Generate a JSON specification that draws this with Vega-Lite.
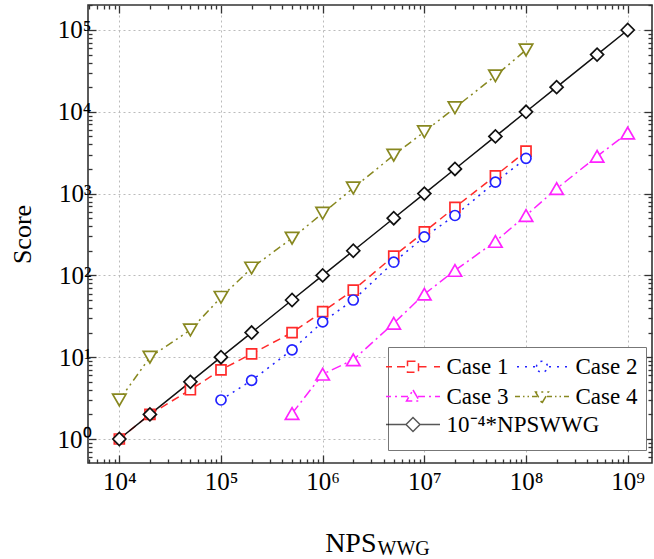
{
  "$schema": "https://vega.github.io/schema/vega-lite/v6.json",
  "width": 564,
  "height": 458,
  "autosize": "none",
  "padding": {"left": 88, "top": 5, "right": 2, "bottom": 96},
  "background": "white",
  "config": {
    "font": "Liberation Serif",
    "view": {"stroke": "#333", "strokeWidth": 1.6},
    "axis": {"labelFont": "Liberation Serif", "titleFont": "Liberation Serif", "labelFontSize": 25, "labelColor": "black", "titleColor": "black", "titleFontWeight": "normal", "tickColor": "#333", "tickWidth": 1.3, "domain": false, "labelFlush": false, "labelOverlap": false, "gridColor": "#bbb", "gridDash": [2, 3], "gridWidth": 1}
  },
  "data": {
    "values": [
      {"series": "Case 1", "x": 10000, "y": 1},
      {"series": "Case 1", "x": 20000, "y": 2},
      {"series": "Case 1", "x": 50000, "y": 4},
      {"series": "Case 1", "x": 100000, "y": 7},
      {"series": "Case 1", "x": 200000, "y": 11},
      {"series": "Case 1", "x": 500000, "y": 20},
      {"series": "Case 1", "x": 1000000, "y": 36},
      {"series": "Case 1", "x": 2000000, "y": 66},
      {"series": "Case 1", "x": 5000000, "y": 172},
      {"series": "Case 1", "x": 10000000, "y": 340},
      {"series": "Case 1", "x": 20000000, "y": 680},
      {"series": "Case 1", "x": 50000000, "y": 1650},
      {"series": "Case 1", "x": 100000000, "y": 3300},
      {"series": "Case 2", "x": 100000, "y": 3},
      {"series": "Case 2", "x": 200000, "y": 5.2},
      {"series": "Case 2", "x": 500000, "y": 12.3},
      {"series": "Case 2", "x": 1000000, "y": 27},
      {"series": "Case 2", "x": 2000000, "y": 50},
      {"series": "Case 2", "x": 5000000, "y": 145},
      {"series": "Case 2", "x": 10000000, "y": 295},
      {"series": "Case 2", "x": 20000000, "y": 540},
      {"series": "Case 2", "x": 50000000, "y": 1380},
      {"series": "Case 2", "x": 100000000, "y": 2700},
      {"series": "Case 3", "x": 500000, "y": 2.05},
      {"series": "Case 3", "x": 1000000, "y": 6.2},
      {"series": "Case 3", "x": 2000000, "y": 9.3},
      {"series": "Case 3", "x": 5000000, "y": 26},
      {"series": "Case 3", "x": 10000000, "y": 59},
      {"series": "Case 3", "x": 20000000, "y": 115},
      {"series": "Case 3", "x": 50000000, "y": 260},
      {"series": "Case 3", "x": 100000000, "y": 540},
      {"series": "Case 3", "x": 200000000, "y": 1150},
      {"series": "Case 3", "x": 500000000, "y": 2850},
      {"series": "Case 3", "x": 1000000000, "y": 5500},
      {"series": "Case 4", "x": 10000, "y": 3},
      {"series": "Case 4", "x": 20000, "y": 10},
      {"series": "Case 4", "x": 50000, "y": 21.5},
      {"series": "Case 4", "x": 100000, "y": 54},
      {"series": "Case 4", "x": 200000, "y": 123},
      {"series": "Case 4", "x": 500000, "y": 285},
      {"series": "Case 4", "x": 1000000, "y": 575},
      {"series": "Case 4", "x": 2000000, "y": 1170},
      {"series": "Case 4", "x": 5000000, "y": 2950},
      {"series": "Case 4", "x": 10000000, "y": 5700},
      {"series": "Case 4", "x": 20000000, "y": 11200},
      {"series": "Case 4", "x": 50000000, "y": 27500},
      {"series": "Case 4", "x": 100000000, "y": 57000},
      {"series": "10⁻⁴*NPSWWG", "x": 10000, "y": 1},
      {"series": "10⁻⁴*NPSWWG", "x": 20000, "y": 2},
      {"series": "10⁻⁴*NPSWWG", "x": 50000, "y": 5},
      {"series": "10⁻⁴*NPSWWG", "x": 100000, "y": 10},
      {"series": "10⁻⁴*NPSWWG", "x": 200000, "y": 20},
      {"series": "10⁻⁴*NPSWWG", "x": 500000, "y": 50},
      {"series": "10⁻⁴*NPSWWG", "x": 1000000, "y": 100},
      {"series": "10⁻⁴*NPSWWG", "x": 2000000, "y": 200},
      {"series": "10⁻⁴*NPSWWG", "x": 5000000, "y": 500},
      {"series": "10⁻⁴*NPSWWG", "x": 10000000, "y": 1000},
      {"series": "10⁻⁴*NPSWWG", "x": 20000000, "y": 2000},
      {"series": "10⁻⁴*NPSWWG", "x": 50000000, "y": 5000},
      {"series": "10⁻⁴*NPSWWG", "x": 100000000, "y": 10000},
      {"series": "10⁻⁴*NPSWWG", "x": 200000000, "y": 20000},
      {"series": "10⁻⁴*NPSWWG", "x": 500000000, "y": 50000},
      {"series": "10⁻⁴*NPSWWG", "x": 1000000000, "y": 100000}
    ]
  },
  "resolve": {"axis": {"x": "independent", "y": "independent"}},
  "layer": [
    {
      "transform": [{"filter": "datum.series !== '10⁻⁴*NPSWWG'"}],
      "mark": {"type": "line", "strokeWidth": 1.5, "clip": true},
      "encoding": {
        "x": {"field": "x", "type": "quantitative", "scale": {"type": "log", "domain": [4920, 1734000000], "nice": false, "zero": false},
          "axis": {"orient": "bottom",
            "values": [10000, 100000, 1000000, 10000000, 100000000, 1000000000],
            "labelExpr": "'10' + ['⁰','¹','²','³','⁴','⁵','⁶','⁷','⁸','⁹'][round(log(datum.value)/LN10)]",
            "labelFontSize": 25, "labelPadding": 14, "tickSize": -8,
            "grid": true,
            "title": "NPS", "titleFontSize": 28, "titleX": 288, "titleY": 88, "titleAlign": "right", "titleBaseline": "alphabetic"}},
        "y": {"field": "y", "type": "quantitative", "scale": {"type": "log", "domain": [0.509, 202000], "nice": false, "zero": false},
          "axis": {"orient": "left",
            "values": [1, 10, 100, 1000, 10000, 100000],
            "labelExpr": "'10' + ['⁰','¹','²','³','⁴','⁵','⁶','⁷','⁸','⁹'][round(log(datum.value)/LN10)]",
            "labelFontSize": 25, "labelPadding": 5, "tickSize": -8,
            "grid": true,
            "title": "Score", "titleFontSize": 26, "titleX": -66, "titleBaseline": "middle"}},
        "stroke": {"field": "series", "type": "nominal",
          "scale": {"domain": ["Case 1", "Case 2", "Case 3", "Case 4"], "range": ["#ff2a2a", "#2222ff", "#ff22ff", "#888820"]},
          "legend": {"title": " ", "titleOrient": "bottom", "titleFontSize": 23, "titlePadding": 10, "orient": "none", "legendX": 300, "legendY": 342, "columns": 2, "direction": "horizontal", "strokeColor": "#777", "fillColor": "white", "padding": 8, "rowPadding": 6, "columnPadding": 3, "labelFontSize": 23, "labelFont": "Liberation Serif", "labelColor": "black", "symbolSize": 400, "symbolStrokeWidth": 1.5, "symbolOffset": 5.5, "labelOffset": 22, "symbolFillColor": "white", "labelLimit": 300, "zindex": 0}},
        "strokeDash": {"field": "series", "type": "nominal", "legend": null,
          "scale": {"domain": ["Case 1", "Case 2", "Case 3", "Case 4"], "range": [[8, 5], [2, 5], [10, 4, 2, 4], [8, 4, 2, 4, 2, 4]]}},
        "detail": {"field": "series"}
      }
    },
    {
      "transform": [{"filter": "datum.series === '10⁻⁴*NPSWWG'"}],
      "mark": {"type": "line", "strokeWidth": 1.5, "stroke": "#111", "clip": true},
      "encoding": {"x": {"field": "x", "type": "quantitative", "axis": null}, "y": {"field": "y", "type": "quantitative", "axis": null}}
    },
    {
      "transform": [{"filter": "datum.series === 'Case 1'"}],
      "mark": {"type": "point", "shape": "square", "filled": true, "fill": "white", "size": 100, "strokeWidth": 1.7, "opacity": 1},
      "encoding": {
        "x": {"field": "x", "type": "quantitative",
          "axis": {"orient": "bottom", "values": [5000,6000,7000,8000,9000,20000,30000,40000,50000,60000,70000,80000,90000,200000,300000,400000,500000,600000,700000,800000,900000,2000000,3000000,4000000,5000000,6000000,7000000,8000000,9000000,20000000,30000000,40000000,50000000,60000000,70000000,80000000,90000000,200000000,300000000,400000000,500000000,600000000,700000000,800000000,900000000],
            "labels": false, "grid": false, "tickSize": -4, "title": null}},
        "y": {"field": "y", "type": "quantitative",
          "axis": {"orient": "left", "values": [0.6,0.7,0.8,0.9,2,3,4,5,6,7,8,9,20,30,40,50,60,70,80,90,200,300,400,500,600,700,800,900,2000,3000,4000,5000,6000,7000,8000,9000,20000,30000,40000,50000,60000,70000,80000,90000,200000],
            "labels": false, "grid": false, "tickSize": -4, "title": null}},
        "stroke": {"field": "series", "type": "nominal"}}
    },
    {
      "transform": [{"filter": "datum.series === 'Case 2'"}],
      "mark": {"type": "point", "shape": "circle", "filled": true, "fill": "white", "size": 100, "strokeWidth": 1.7, "opacity": 1},
      "encoding": {
        "x": {"field": "x", "type": "quantitative",
          "axis": {"orient": "top", "values": [5000,6000,7000,8000,9000,20000,30000,40000,50000,60000,70000,80000,90000,200000,300000,400000,500000,600000,700000,800000,900000,2000000,3000000,4000000,5000000,6000000,7000000,8000000,9000000,20000000,30000000,40000000,50000000,60000000,70000000,80000000,90000000,200000000,300000000,400000000,500000000,600000000,700000000,800000000,900000000],
            "labels": false, "grid": false, "tickSize": -4, "title": null}},
        "y": {"field": "y", "type": "quantitative",
          "axis": {"orient": "right", "values": [0.6,0.7,0.8,0.9,2,3,4,5,6,7,8,9,20,30,40,50,60,70,80,90,200,300,400,500,600,700,800,900,2000,3000,4000,5000,6000,7000,8000,9000,20000,30000,40000,50000,60000,70000,80000,90000,200000],
            "labels": false, "grid": false, "tickSize": -4, "title": null}},
        "stroke": {"field": "series", "type": "nominal"}}
    },
    {
      "transform": [{"filter": "datum.series === 'Case 3'"}],
      "mark": {"type": "point", "shape": "triangle-up", "filled": true, "fill": "white", "size": 180, "strokeWidth": 1.7, "opacity": 1},
      "encoding": {"x": {"field": "x", "type": "quantitative", "axis": null}, "y": {"field": "y", "type": "quantitative", "axis": null}, "stroke": {"field": "series", "type": "nominal"}}
    },
    {
      "transform": [{"filter": "datum.series === 'Case 4'"}],
      "mark": {"type": "point", "shape": "triangle-down", "filled": true, "fill": "white", "size": 180, "strokeWidth": 1.7, "opacity": 1},
      "encoding": {"x": {"field": "x", "type": "quantitative", "axis": null}, "y": {"field": "y", "type": "quantitative", "axis": null}, "stroke": {"field": "series", "type": "nominal"}}
    },
    {
      "transform": [{"filter": "datum.series === '10⁻⁴*NPSWWG'"}],
      "mark": {"type": "point", "shape": "diamond", "filled": true, "fill": "white", "stroke": "#111", "size": 169, "strokeWidth": 1.7, "opacity": 1},
      "encoding": {"x": {"field": "x", "type": "quantitative", "axis": null}, "y": {"field": "y", "type": "quantitative", "axis": null}}
    },
    {
      "transform": [{"filter": "false"}],
      "mark": {"type": "point", "filled": true, "fill": "white", "strokeWidth": 1.5},
      "encoding": {
        "x": {"field": "x", "type": "quantitative",
          "axis": {"orient": "top", "values": [10000, 100000, 1000000, 10000000, 100000000, 1000000000],
            "labels": false, "grid": false, "tickSize": -8,
            "title": "WWG", "titleFontSize": 20, "titleX": 289, "titleY": 549, "titleAlign": "left", "titleBaseline": "alphabetic", "titleAngle": 0}},
        "y": {"field": "y", "type": "quantitative",
          "axis": {"orient": "right", "values": [1, 10, 100, 1000, 10000, 100000],
            "labels": false, "grid": false, "tickSize": -8, "title": null}},
        "stroke": {"field": "series", "type": "nominal"},
        "shape": {"field": "series", "type": "nominal",
          "scale": {"domain": ["Case 1", "Case 2", "Case 3", "Case 4"],
            "range": [
              "M-2.7,0H-2.1M-1.6,0H-0.55M-0.55,-0.55H0.55V0.55H-0.55ZM0.55,0H1.6M2.1,0H2.7",
              "M-2.5,0H-2.3M-1.7,0H-1.5M-0.9,0H-0.7M-0.55,0A0.55,0.55,0,1,1,0.55,0A0.55,0.55,0,1,1,-0.55,0ZM0.7,0H0.9M1.5,0H1.7M2.3,0H2.5",
              "M-2.7,0H-2.2M-1.8,0H-1.6M-1.2,0H-0.5M0,-0.65L0.65,0.45H-0.65ZM0.5,0H1.2M1.6,0H1.8M2.2,0H2.7",
              "M-2.7,0H-2.2M-1.9,0H-1.75M-1.45,0H-1.3M-1.0,0H-0.5M0,0.65L0.65,-0.45H-0.65ZM0.5,0H1.0M1.3,0H1.45M1.75,0H1.9M2.2,0H2.7"
            ]},
          "legend": {"title": " ", "titleOrient": "bottom", "titleFontSize": 23, "titlePadding": 10, "orient": "none", "legendX": 300, "legendY": 342, "columns": 2, "direction": "horizontal", "strokeColor": "#777", "fillColor": "white", "padding": 8, "rowPadding": 6, "columnPadding": 3, "labelFontSize": 23, "labelFont": "Liberation Serif", "labelColor": "black", "symbolSize": 400, "symbolStrokeWidth": 1.5, "symbolOffset": 5.5, "labelOffset": 22, "symbolFillColor": "white", "labelLimit": 300, "zindex": 0}}
      }
    },
    {
      "transform": [{"filter": "false"}],
      "mark": {"type": "point", "filled": true, "stroke": "#111", "strokeWidth": 1.5},
      "encoding": {
        "x": {"field": "x", "type": "quantitative", "axis": null},
        "y": {"field": "y", "type": "quantitative", "axis": null},
        "fill": {"field": "series", "type": "nominal",
          "scale": {"domain": ["10⁻⁴*NPSWWG"], "range": ["white"]},
          "legend": {"title": null, "orient": "none", "legendX": 308, "legendY": 408, "padding": 0, "labelFontSize": 23, "labelFont": "Liberation Serif", "labelColor": "black", "symbolSize": 400, "symbolStrokeWidth": 1.5, "symbolStrokeColor": "#111", "symbolType": "M-2.7,0H-0.7M-0.7,0L0,-0.7L0.7,0L0,0.7ZM0.7,0H2.7", "symbolOffset": 5.5, "labelOffset": 22, "labelLimit": 300, "zindex": 1}}
      }
    }
  ]
}
